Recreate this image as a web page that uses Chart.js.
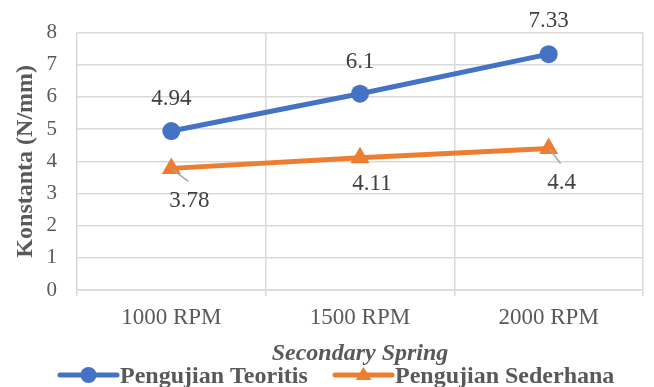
<!DOCTYPE html>
<html>
<head>
<meta charset="utf-8">
<script src="https://cdn.jsdelivr.net/npm/chart.js@4"></script>
<style>
  html, body { margin: 0; padding: 0; background: #fff; }
  #wrap { width: 654px; height: 387px; }
</style>
</head>
<body>
<div id="wrap"><canvas id="chart" width="654" height="387"></canvas></div>
<script>
var categories = ['1000 RPM', '1500 RPM', '2000 RPM'];
var teoritis = [4.94, 6.1, 7.33];
var sederhana = [3.78, 4.11, 4.4];
var seriesNames = ['Pengujian Teoritis', 'Pengujian Sederhana'];
var yTicks = [0, 1, 2, 3, 4, 5, 6, 7, 8];

var FONT = "'Liberation Serif', 'Times New Roman', serif";
var GRAY = '#595959';
var BLUE = '#4472C4';
var ORANGE = '#ED7D31';

// label placement: blue above the point, orange below-right with a leader line
var labelOffsets = [
  [[0, -32], [0, -32], [0, -33]],
  [[18, 33], [12, 26], [13, 35]]
];
var leaders = [
  [false, false, false],
  [true, false, true]
];

var labelPlugin = {
  id: 'labels',
  afterDatasetsDraw: function(chart) {
    var ctx = chart.ctx;
    ctx.save();
    ctx.font = '23px ' + FONT;
    ctx.textAlign = 'center';
    ctx.textBaseline = 'middle';
    chart.data.datasets.forEach(function(ds, i) {
      var meta = chart.getDatasetMeta(i);
      meta.data.forEach(function(pt, j) {
        var off = labelOffsets[i][j];
        var lx = pt.x + off[0], ly = pt.y + off[1];
        if (leaders[i][j]) {
          ctx.strokeStyle = '#a6a6a6';
          ctx.lineWidth = 1.5;
          ctx.beginPath();
          ctx.moveTo(pt.x + 1, pt.y + 1);
          ctx.lineTo(lx - 1, ly - 20);
          ctx.stroke();
        }
        ctx.fillStyle = '#404040';
        ctx.fillText(String(ds.data[j]), lx, ly);
      });
    });
    ctx.restore();
  }
};

var legendPlugin = {
  id: 'customLegend',
  afterDraw: function(chart) {
    var ctx = chart.ctx;
    var y = 375;
    var items = [
      {x: 60, color: BLUE, style: 'circle'},
      {x: 335, color: ORANGE, style: 'triangle'}
    ];
    ctx.save();
    items.forEach(function(it, i) {
      ctx.strokeStyle = it.color;
      ctx.lineWidth = 5;
      ctx.lineCap = 'round';
      ctx.beginPath();
      ctx.moveTo(it.x, y);
      ctx.lineTo(it.x + 57, y);
      ctx.stroke();
      ctx.fillStyle = it.color;
      var cx = it.x + 28.5;
      ctx.beginPath();
      if (it.style === 'circle') {
        ctx.arc(cx, y, 8, 0, Math.PI * 2);
      } else {
        ctx.moveTo(cx, y - 8);
        ctx.lineTo(cx + 8, y + 5);
        ctx.lineTo(cx - 8, y + 5);
        ctx.closePath();
      }
      ctx.fill();
      ctx.fillStyle = GRAY;
      ctx.font = 'bold 24px ' + FONT;
      ctx.textAlign = 'left';
      ctx.textBaseline = 'middle';
      ctx.fillText(seriesNames[i], it.x + 60, y + 2);
    });
    ctx.restore();
  }
};

new Chart(document.getElementById('chart'), {
  type: 'line',
  data: {
    labels: categories,
    datasets: [{
      label: seriesNames[0],
      data: teoritis,
      borderColor: BLUE,
      backgroundColor: BLUE,
      borderWidth: 5,
      pointStyle: 'circle',
      pointRadius: 9,
      pointBorderWidth: 0,
      tension: 0
    }, {
      label: seriesNames[1],
      data: sederhana,
      borderColor: ORANGE,
      backgroundColor: ORANGE,
      borderWidth: 5,
      pointStyle: 'triangle',
      pointRadius: 11,
      pointBorderWidth: 0,
      tension: 0
    }]
  },
  options: {
    responsive: false,
    animation: false,
    layout: { padding: { top: 30, right: 6, bottom: 19, left: 0 } },
    plugins: {
      legend: { display: false },
      tooltip: { enabled: false }
    },
    scales: {
      x: {
        offset: true,
        grid: { offset: true, color: '#d9d9d9', lineWidth: 1.5, tickLength: 6 },
        border: { color: '#d9d9d9', width: 1.5 },
        ticks: { color: GRAY, font: { family: FONT, size: 23 }, padding: 8 },
        title: {
          display: true,
          text: 'Secondary Spring',
          color: GRAY,
          font: { family: FONT, size: 24, weight: 'bold', style: 'italic' },
          padding: { top: 0, bottom: 0 }
        },
        afterFit: function(scale) { scale.height = 78; }
      },
      y: {
        min: 0,
        max: 8,
        afterBuildTicks: function(scale) {
          scale.ticks = yTicks.map(function(v) { return { value: v }; });
        },
        grid: { color: '#d9d9d9', lineWidth: 1.5, drawTicks: false },
        border: { display: false },
        ticks: { color: GRAY, font: { family: FONT, size: 21 }, padding: 20 },
        title: {
          display: true,
          text: 'Konstanta (N/mm)',
          color: GRAY,
          font: { family: FONT, size: 24, weight: 'bold' },
          padding: { top: 11, bottom: 0 }
        },
        afterFit: function(scale) { scale.width = 77; }
      }
    }
  },
  plugins: [labelPlugin, legendPlugin]
});
</script>
</body>
</html>
